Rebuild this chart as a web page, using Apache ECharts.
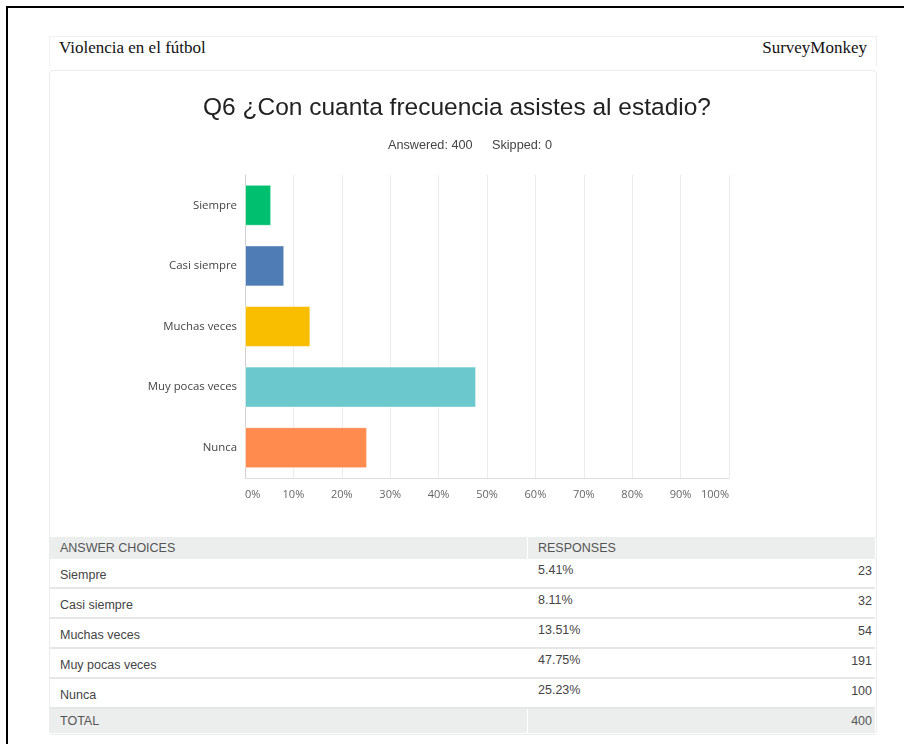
<!DOCTYPE html>
<html>
<head>
<meta charset="utf-8">
<script src="https://cdn.jsdelivr.net/npm/echarts@6/dist/echarts.min.js"></script>
<style>
  html, body { margin: 0; padding: 0; width: 904px; height: 744px; background: #fff; overflow: hidden; }
  #frame { position: absolute; left: 6px; top: 6px; width: 1000px; height: 800px; border-left: 2px solid #000; border-top: 2px solid #000; }
  #hdr { position: absolute; left: 49px; top: 36px; width: 826px; height: 30px; border: 1px solid #f0f0f0; border-bottom: none; font-family: "Liberation Serif", "DejaVu Serif", serif; font-size: 17px; color: #111; }
  #hdr .l { position: absolute; left: 9px; top: 1px; }
  #hdr .r { position: absolute; right: 9px; top: 1px; }
  #card { position: absolute; left: 49px; top: 70px; width: 826px; height: 663px; border: 1px solid #ececec; border-radius: 4px; }
  #chart { position: absolute; left: 0; top: 0; width: 904px; height: 530px; }
  #tbl { position: absolute; left: 50px; top: 537px; width: 825px; font-family: "Liberation Sans", Arial, sans-serif; font-size: 12.5px; color: #444; }
  .row { position: relative; height: 28px; border-bottom: 2px solid #e6e6e6; }
  .row.head, .row.total { background: #eceeee; height: 22px; border-bottom: none; color: #555; }
  .row.total { height: 24px; }
  .row .c1 { position: absolute; left: 10px; }
  .row .c2 { position: absolute; left: 488px; }
  .row .c3 { position: absolute; right: 3px; }
  .row .div { position: absolute; left: 477px; top: 0; bottom: 0; width: 1px; background: #fff; }
</style>
</head>
<body>
<div id="frame"></div>
<div id="hdr"><span class="l">Violencia en el fútbol</span><span class="r">SurveyMonkey</span></div>
<div id="card"></div>
<div id="chart"></div>
<div id="tbl"></div>
<script>
const categories = ["Siempre", "Casi siempre", "Muchas veces", "Muy pocas veces", "Nunca"];
const percents = [5.41, 8.11, 13.51, 47.75, 25.23];
const counts = [23, 32, 54, 191, 100];
const total = 400;
const answered = 400;
const skipped = 0;
const colors = ["#00BF6F", "#507CB6", "#F9BE00", "#6BC8CD", "#FF8B4F"];

const chart = echarts.init(document.getElementById('chart'));
chart.setOption({
  backgroundColor: 'transparent',
  animation: false,
  graphic: [
    { type: 'text', x: 457, y: 108, style: { text: 'Q6 ¿Con cuanta frecuencia asistes al estadio?', align: 'center', verticalAlign: 'middle', font: '24.5px "Liberation Sans", Arial, sans-serif', fill: '#222' } },
    { type: 'text', x: 388, y: 145, style: { text: 'Answered: ' + answered, align: 'left', verticalAlign: 'middle', font: '12.7px "Liberation Sans", Arial, sans-serif', fill: '#444' } },
    { type: 'text', x: 492, y: 145, style: { text: 'Skipped: ' + skipped, align: 'left', verticalAlign: 'middle', font: '12.7px "Liberation Sans", Arial, sans-serif', fill: '#444' } }
  ],
  grid: { left: 245, top: 175, width: 484, height: 303, containLabel: false },
  xAxis: {
    type: 'value', min: 0, max: 100, interval: 10,
    axisLine: { show: true, lineStyle: { color: '#dddddd', width: 1 } },
    axisTick: { show: false },
    splitLine: { show: true, lineStyle: { color: '#ebebeb', width: 1 } },
    axisLabel: { formatter: v => v + '%', color: '#666', fontSize: 11, margin: 11, fontFamily: '"Open Sans", sans-serif', alignMinLabel: 'left', alignMaxLabel: 'right' }
  },
  yAxis: {
    type: 'category', inverse: true, data: categories,
    axisLine: { show: true, lineStyle: { color: '#d0d0d0', width: 1 } },
    axisTick: { show: false },
    axisLabel: { color: '#444', fontSize: 11.4, margin: 8, fontFamily: '"Open Sans", sans-serif' }
  },
  series: [{
    type: 'bar',
    barWidth: 41,
    data: percents.map((v, i) => ({ value: v, itemStyle: { color: colors[i], borderColor: 'rgba(255,255,255,0.5)', borderWidth: 1 } }))
  }]
});

const tbl = document.getElementById('tbl');
let html = '<div class="row head"><span class="c1" style="top:4px">ANSWER CHOICES</span><span class="div"></span><span class="c2" style="top:4px">RESPONSES</span></div>';
categories.forEach((c, i) => {
  html += '<div class="row"><span class="c1" style="top:9px">' + c + '</span><span class="c2" style="top:4px">' + percents[i].toFixed(2) + '%</span><span class="c3" style="top:5px">' + counts[i] + '</span></div>';
});
html += '<div class="row total"><span class="c1" style="top:5px">TOTAL</span><span class="div"></span><span class="c3" style="top:5px">' + total + '</span></div>';
tbl.innerHTML = html;
</script>
</body>
</html>
